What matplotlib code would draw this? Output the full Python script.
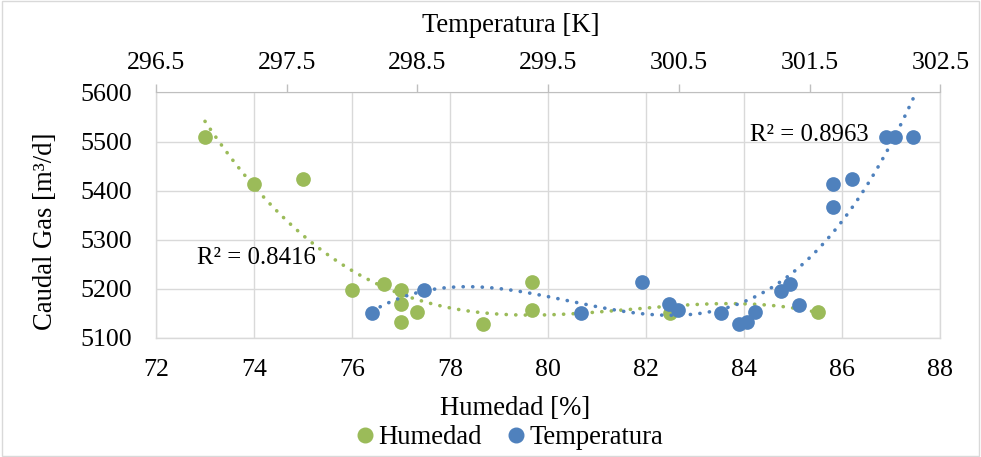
#! /usr/bin/env python3
#
# Caudal de gas vs humedad y temperatura, con lineas de tendencia polinomicas

import numpy as np
import matplotlib

matplotlib.use("Agg")
import matplotlib.pyplot as plt
from matplotlib.lines import Line2D
from matplotlib.patches import Rectangle

plt.rcParams["font.family"] = ["Liberation Serif", "DejaVu Serif"]

# Humedad [%] vs caudal de gas [m3/d]
humedad = [73.0, 74.0, 75.0, 76.0, 76.66, 77.0, 77.0, 77.0, 77.32, 78.66,
           79.67, 79.67, 82.49, 85.5]
caudal_h = [5510, 5413, 5424, 5197, 5210, 5198, 5170, 5133, 5152, 5128,
            5214, 5157, 5150, 5152]

# Temperatura [K] vs caudal de gas [m3/d]
temperatura = [298.15, 298.55, 299.75, 300.22, 300.42, 300.49, 300.82, 300.96,
               301.02, 301.08, 301.28, 301.35, 301.42, 301.68, 301.68, 301.82,
               302.08, 302.15, 302.29]
caudal_t = [5151, 5197, 5151, 5214, 5169, 5157, 5151, 5128, 5133, 5152, 5196,
            5210, 5168, 5367, 5413, 5423, 5509, 5509, 5509]

r2_humedad = "R² = 0.8416"
r2_temperatura = "R² = 0.8963"

GREEN = "#9BBB59"
BLUE = "#4F81BD"
GRID = "#D9D9D9"
FS = 18.6        # tick labels
FS_T = 19.2      # titles, legend
FS_R = 17.8      # R² labels

fig = plt.figure(figsize=(9.81, 4.57), dpi=100)
ax = fig.add_axes([0.159, 0.2604, 0.7997, 0.5372])
ax2 = ax.twiny()

# Bottom axis: humedad
ax.set_xlim(72, 88)
ax.set_ylim(5100, 5600)
ax.set_xticks(np.arange(72, 89, 2))
ax.set_yticks(np.arange(5100, 5601, 100))
ax.grid(True, color=GRID, linewidth=1.0)
ax.set_axisbelow(True)
ax.tick_params(axis="both", length=0, labelsize=FS)
ax.tick_params(axis="x", pad=15)
ax.tick_params(axis="y", pad=17)
for side in ("left", "right", "bottom"):
    ax.spines[side].set_color(GRID)
    ax.spines[side].set_linewidth(1.0)
ax.spines["top"].set_visible(False)

# Top axis: temperatura
ax2.set_xlim(296.5, 302.5)
ax2.set_xticks(np.arange(296.5, 302.6, 1.0))
ax2.set_xticklabels([f"{v:.1f}" for v in np.arange(296.5, 302.6, 1.0)])
ax2.tick_params(axis="x", direction="out", length=6, width=1.0, color="#BFBFBF",
                labelsize=FS, pad=7)
ax2.spines["top"].set_color("#BFBFBF")
for side in ("left", "right", "bottom"):
    ax2.spines[side].set_visible(False)

# Axis titles (placed where the spreadsheet left them)
fig.text(515 / 981, 1 - 415 / 457, "Humedad [%]", fontsize=FS_T,
         ha="center", va="baseline")
fig.text(511 / 981, 1 - 32 / 457, "Temperatura [K]", fontsize=FS_T,
         ha="center", va="baseline")
fig.text(46 / 981, 1 - 231 / 457, "Caudal Gas [m³/d]", fontsize=FS_T,
         rotation=90, ha="center", va="center")

# Markers
ax.scatter(humedad, caudal_h, s=112, color=GREEN, zorder=3, linewidths=0)
ax2.scatter(temperatura, caudal_t, s=112, color=BLUE, zorder=3, linewidths=0)

# Polynomial trendlines (fit to the data, as the spreadsheet does)
dots = dict(linewidth=2.6, linestyle=(0, (0.05, 2.6)), dash_capstyle="round",
            zorder=4)
ph = np.polyfit(humedad, caudal_h, 3)
xh = np.linspace(min(humedad), max(humedad), 200)
ax.plot(xh, np.polyval(ph, xh), color=GREEN, **dots)

pt = np.polyfit(temperatura, caudal_t, 3)
xt = np.linspace(min(temperatura), max(temperatura), 200)
ax2.plot(xt, np.polyval(pt, xt), color=BLUE, **dots)

ax.text(74.04, 5262, r2_humedad, fontsize=FS_R, ha="center", va="center")
ax2.text(301.5, 5514, r2_temperatura, fontsize=FS_R, ha="center", va="center")

# Legend below the axis title
handles = [
    Line2D([], [], marker="o", linestyle="none", color=GREEN, markersize=10.5,
           label="Humedad"),
    Line2D([], [], marker="o", linestyle="none", color=BLUE, markersize=10.5,
           label="Temperatura"),
]
fig.legend(handles=handles, loc="center", bbox_to_anchor=(0.517, 0.043), ncol=2,
           frameon=False, fontsize=FS_T, handletextpad=0.0, columnspacing=0.8,
           handlelength=1.0, borderpad=0.0)

fig.patches.append(Rectangle((0.002, 0.003), 0.996, 0.994, transform=fig.transFigure,
                             fill=False, edgecolor=GRID, linewidth=1.0))

fig.savefig("out.png", dpi=100)
